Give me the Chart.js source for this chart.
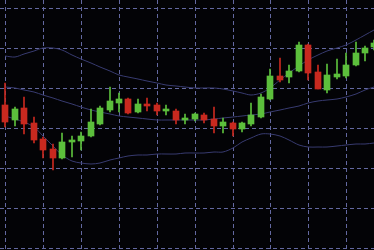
<!DOCTYPE html>
<html>
<head>
<meta charset="utf-8">
<script src="https://cdn.jsdelivr.net/npm/chart.js@4/dist/chart.umd.min.js"></script>
<style>
  html, body { margin: 0; padding: 0; background: #030306; }
  #wrap { width: 374px; height: 250px; }
</style>
</head>
<body>
<div id="wrap"><canvas id="myChart"></canvas></div>
<script>
// candle values, one entry per bar
var opens  = [35.75,32,35,31.25,27.25,24.75,22.5,26.5,26.75,28,31,34.5,36.25,37.25,34,36,35.75,34.25,34.25,32,32.25,33.25,32.25,30.5,31.25,29.75,31,32.75,37.25,43,42.75,44.25,50.75,44,39.5,42.75,43,45.75,48.75,50.25];
var closes = [31.5,34.75,31,27,24.5,22.5,26.5,27,28,31.5,35,36.75,37.25,33.75,36,35.5,34.25,34.75,32,32.5,33.5,32,30.5,31.5,29.75,31.25,33.25,37.75,43,42,44.25,50.75,43.75,39.75,43.25,43.5,45.75,48.75,50,51.25];
var highs  = [41.25,35.25,37.75,32.75,27.75,26,28.75,28,29,34.75,35.5,40.25,38.75,37.5,37.25,37.5,36.25,35.75,34.75,33.5,33.75,33.75,35.25,32.5,31.5,31.5,36.25,38.5,44.75,47.5,45.75,51.5,51,45.75,46,47.25,48.75,51.5,50.5,52];
var lows   = [30.25,30.5,28.5,26.25,22.5,19.5,22.25,22.75,24.5,27.75,30.75,34,34,33.5,33.75,34.25,33.25,33.25,31,31,31.75,31.25,28.75,28.75,28,29,30.5,32.5,37,41.5,41.25,44,42,39.75,38.75,42.25,42.5,45.5,46.75,49.5];

// bollinger bands
var upperBand  = [48,47.75,48.5,49.25,50,50,49.5,48.25,47.25,46.25,45.25,44.25,43.25,42.75,42.25,41.75,41.25,40.75,40.5,40.25,40,40,40,39.75,39.25,38.75,38.25,38.75,40,42,43.75,45.5,47,48.25,49.25,50,50.75,52,53.25,54.5];
var middleBand = [40.25,40,39.5,39,38.25,37.5,36.75,36,35.25,34.5,34,33.5,33,32.75,32.5,32.25,32,32,32,32,32,32,32.25,32.5,32.75,33,33.25,33.5,34,34.5,35,35.5,36.25,36.75,37,37.25,37.75,38.5,39.5,40.25];
var lowerBand  = [33,32.25,31.5,30.25,28,25.5,23.25,21.75,21.25,21,21.25,22,22.5,23,23.25,23.25,23.5,23.5,23.5,23.75,23.75,23.75,24,24,25,26.5,27.5,28.5,28.5,28,27,25.75,25.25,25.25,25.25,25.5,25.75,26,26,26.25];

// grid positions
var xTicks = [0,4,8,12,16,20,24,28,32,36];
var yTicks = [0,10,20,30,40,50,60];

var upColor = '#5cbf3c';
var downColor = '#c8291f';
var candleColors = opens.map(function(o, i) { return closes[i] >= o ? upColor : downColor; });

var bodies = opens.map(function(o, i) {
  return {x: i, y: [Math.min(o, closes[i]), Math.max(o, closes[i])]};
});
var wicks = lows.map(function(l, i) { return {x: i, y: [l, highs[i]]}; });
function band(arr) { return arr.map(function(v, i) { return {x: i, y: v}; }); }

var bandStyle = {
  type: 'line', borderColor: '#383b70', borderWidth: 1,
  pointRadius: 0, tension: 0.3, fill: false, order: 3
};

var ctx = document.getElementById('myChart').getContext('2d');
var myChart = new Chart(ctx, {
  type: 'bar',
  data: {
    datasets: [
      Object.assign({data: band(upperBand)}, bandStyle),
      Object.assign({data: band(middleBand)}, bandStyle),
      Object.assign({data: band(lowerBand)}, bandStyle),
      {
        data: wicks,
        backgroundColor: candleColors,
        barThickness: 1,
        grouped: false,
        order: 2
      }, {
        data: bodies,
        backgroundColor: candleColors,
        barThickness: 6,
        grouped: false,
        order: 1
      }
    ]
  },
  options: {
    responsive: true,
    maintainAspectRatio: false,
    animation: false,
    layout: { padding: 0 },
    plugins: {
      legend: { display: false },
      tooltip: { enabled: false }
    },
    scales: {
      x: {
        type: 'linear',
        min: -0.58,
        max: 38.95,
        offset: false,
        alignToPixels: true,
        afterBuildTicks: function(scale) {
          scale.ticks = xTicks.map(function(v) { return {value: v}; });
        },
        ticks: { display: false },
        grid: { color: '#6368a0', lineWidth: 1, drawTicks: false, offset: false },
        border: { display: false, dash: [4, 3] }
      },
      y: {
        min: -0.5,
        max: 62,
        alignToPixels: true,
        afterBuildTicks: function(scale) {
          scale.ticks = yTicks.map(function(v) { return {value: v}; });
        },
        ticks: { display: false },
        grid: { color: '#6368a0', lineWidth: 1, drawTicks: false },
        border: { display: false, dash: [4, 3] }
      }
    }
  }
});
</script>
</body>
</html>
